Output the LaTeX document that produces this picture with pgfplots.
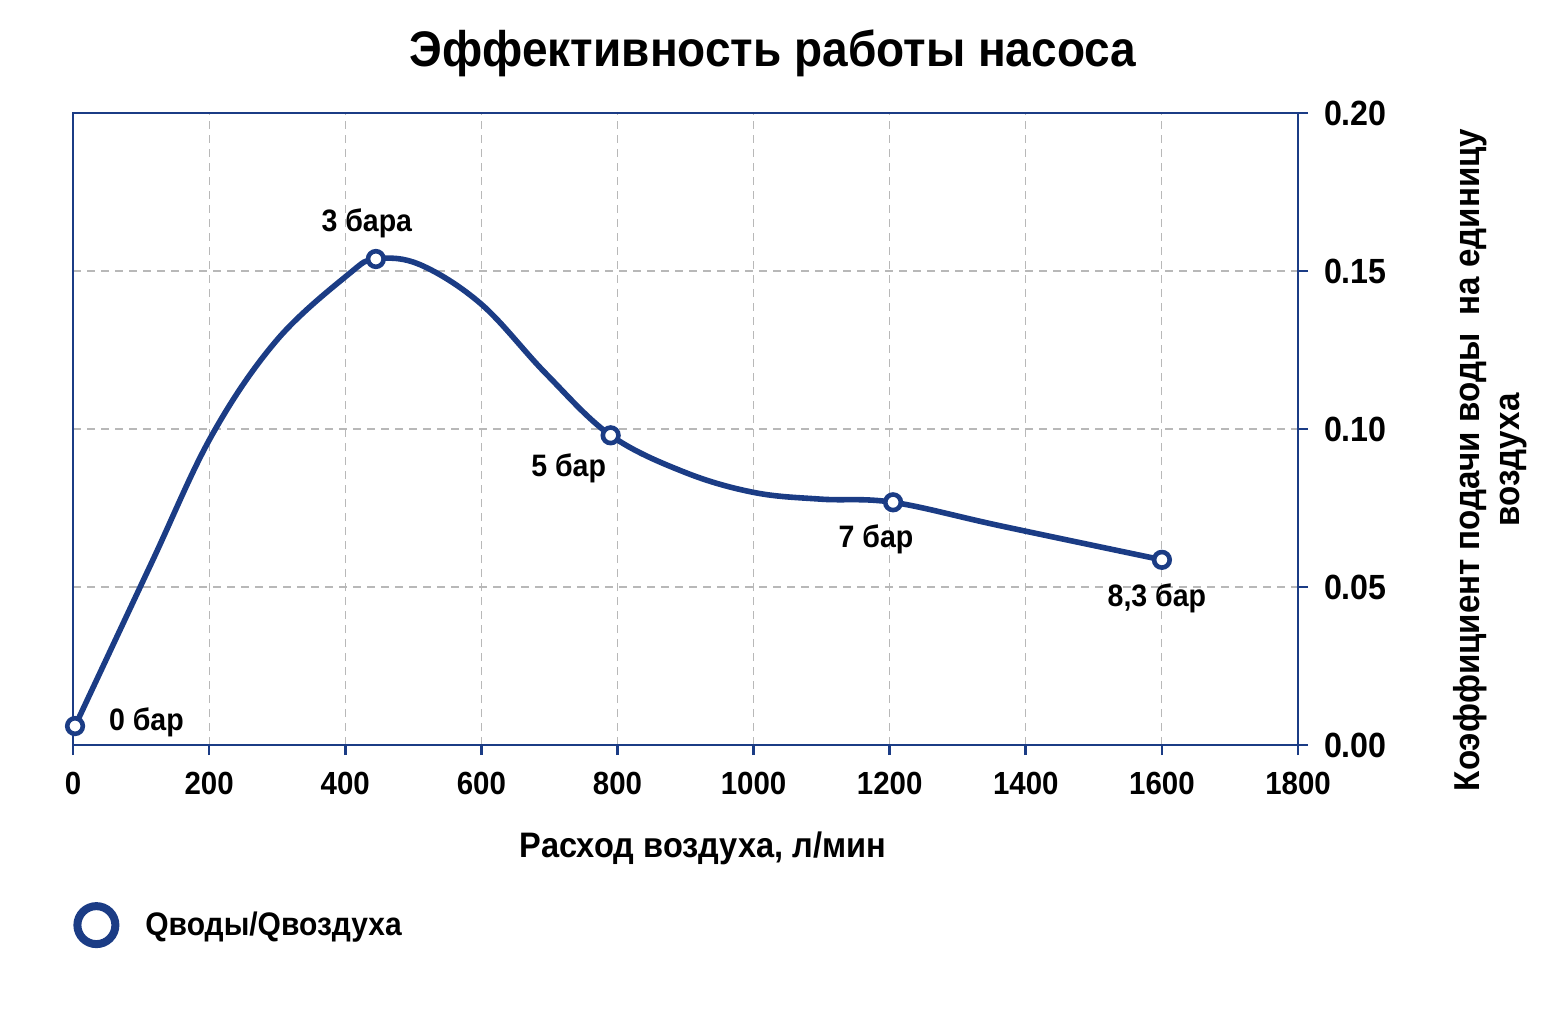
\documentclass[border=0pt]{standalone}
\usepackage{fontspec}
\setmainfont{Liberation Sans}[FakeStretch=0.92]
\usepackage{pgfplots}
\pgfplotsset{compat=1.18}
\definecolor{navy}{HTML}{1B3C85}
\definecolor{gridgray}{HTML}{B8B8B8}
% measured pressure points
\pgfplotstableread{
x y
3 0.006
445 0.1538
790 0.098
1205 0.0768
1600 0.0586
}\pointtable
% curve as traced on the chart
\pgfplotstableread{
x y
3 0.006
114 0.057
204 0.098
299 0.128
405 0.149
445 0.1538
510 0.152
600 0.1395
695 0.1175
790 0.098
899 0.0863
1001 0.0799
1099 0.0778
1205 0.0768
1364 0.0693
1600 0.0586
}\curvetable
\begin{document}
\begin{tikzpicture}[x=1pt,y=1pt]
\useasboundingbox (0,0) rectangle (771.5,509.5);
\begin{axis}[
  at={(36.5pt,137pt)}, anchor=south west,
  width=612.5pt, height=316pt, scale only axis,
  xmin=0, xmax=1800, ymin=0, ymax=0.2,
  xtick={0,200,400,600,800,1000,1200,1400,1600,1800},
  ytick={0,0.05,0.1,0.15,0.2},
  xtick pos=lower, ytick pos=right, yticklabel pos=right,
  tick align=outside, major tick length=5pt,
  tick style={navy, line width=1.3pt},
  axis line style={navy, line width=1.3pt},
  grid=major,
  major grid style={dash pattern=on 4pt off 3pt, gridgray, line width=0.6pt},
  /pgf/number format/assume math mode=true,
  xticklabel style={font=\bfseries\fontsize{16}{16}\selectfont, yshift=-5pt},
  yticklabel style={font=\bfseries\fontsize{17.5}{18}\selectfont, xshift=4.5pt,
    /pgf/number format/fixed, /pgf/number format/fixed zerofill, /pgf/number format/precision=2},
  x tick label style={/pgf/number format/1000 sep={}},
  legend style={at={(0,-0.285)}, anchor=west, draw=none, fill=none, inner sep=0pt,
    font=\bfseries\fontsize{16.3}{17}\selectfont},
  legend image code/.code={\draw[navy, line width=4pt, fill=white] (9.5pt,0pt) circle (9.5pt);},
  legend cell align=left,
  clip=false,
]
\addplot[navy, line width=2.8pt, smooth, tension=0.6, forget plot]
  table[x=x,y=y] {\curvetable};
\addplot[only marks, mark=*, mark size=3.9pt, mark options={fill=white, draw=navy, line width=2.3pt}]
  table[x=x,y=y] {\pointtable};
\addlegendentry{\hspace{11pt}Qводы/Qвоздуха}
\begin{scope}[font=\bfseries\fontsize{15.5}{16}\selectfont]
\node[anchor=west] at ([xshift=13.5pt,yshift=2pt]axis cs:3,0.006) {0 бар};
\node at ([xshift=-4.5pt,yshift=18pt]axis cs:445,0.1538) {3 бара};
\node at ([xshift=-21pt,yshift=-16.5pt]axis cs:790,0.098) {5 бар};
\node at ([xshift=-8.5pt,yshift=-18.5pt]axis cs:1205,0.0768) {7 бар};
\node at ([xshift=-2.5pt,yshift=-19.5pt]axis cs:1600,0.0586) {8,3 бар};
\end{scope}
\end{axis}
\node[font=\bfseries\fontsize{25}{27}\selectfont] at (386.5,483) {Эффективность работы насоса};
\node[font=\bfseries\fontsize{17.7}{20}\selectfont] at (351.5,85.5) {Расход воздуха, л/мин};
\node[font=\bfseries\fontsize{18}{20}\selectfont, rotate=90, align=center] at (745,279.5)
  {Коэффициент подачи воды\ \ на единицу\\воздуха};
\end{tikzpicture}
\end{document}
